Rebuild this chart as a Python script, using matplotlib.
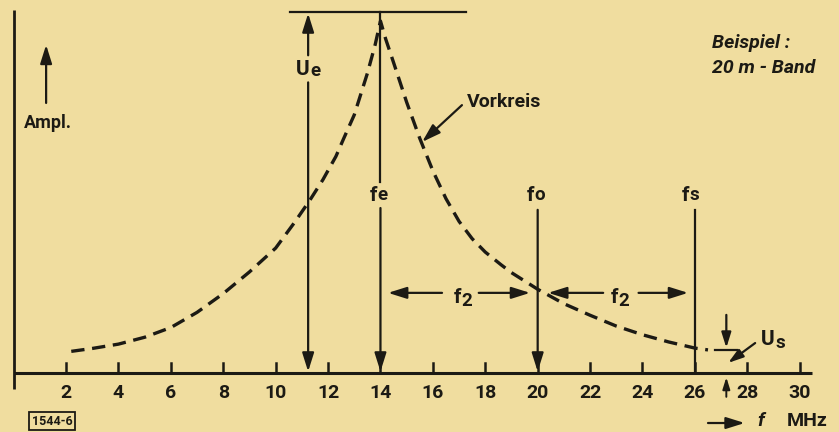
import matplotlib
matplotlib.use("Agg")
import matplotlib.pyplot as plt

# resonance curve of the pre-selector circuit (Vorkreis), relative amplitude
freq = [2.2, 3, 4, 5, 6, 7, 8, 9, 10, 10.7, 11.3, 11.8, 12.3, 12.6, 13, 13.5,
        13.8, 14, 14.2, 14.5, 15, 15.5, 16, 16.5, 17, 17.5, 18, 18.6, 19, 20,
        21, 22, 23, 24, 25, 26, 26.5]
ampl = [0.060, 0.068, 0.080, 0.099, 0.126, 0.168, 0.220, 0.280, 0.346, 0.415,
        0.478, 0.535, 0.600, 0.650, 0.715, 0.830, 0.910, 0.975, 0.925, 0.860,
        0.750, 0.650, 0.560, 0.483, 0.420, 0.372, 0.335, 0.300, 0.278, 0.232,
        0.192, 0.160, 0.130, 0.106, 0.086, 0.069, 0.064]

tick_values = [2, 4, 6, 8, 10, 12, 14, 16, 18, 20, 22, 24, 26, 28, 30]

f_e = 14.0     # input frequency
f_o = 20.0     # oscillator
f_s = 26.0     # image frequency
f_us = 27.2    # where the image amplitude is marked
u_e = 1.0
u_s = 0.064

paper = "#f0dd9f"
ink = "#1c1a14"
font = "Roboto"

fig = plt.figure(figsize=(8.39, 4.32), dpi=100, facecolor=paper)
ax = fig.add_axes([0, 0, 1, 1])
ax.set_facecolor(paper)
ax.set_xlim(-0.52, 31.5)
ax.set_ylim(-0.1634, 1.0332)
ax.set_axis_off()


def txt(x, y, s, size=14, ha="center", va="center", style="normal", **kw):
    return ax.text(x, y, s, fontsize=size, ha=ha, va=va, family=font,
                   weight="bold", style=style, color=ink, **kw)


def sub_label(x, y, main, sub, size=15, drop=0):
    # letter with index, split at x
    txt(x, y, main, size=size, ha="right")
    ax.annotate(sub, xy=(x, y), xytext=(0.5, -drop), textcoords="offset points",
                fontsize=size - 1.5, ha="left", va="center", family=font,
                weight="bold", color=ink)


def arrow(x0, y0, x1, y1, lw=1.6, scale=16):
    ax.annotate("", xy=(x1, y1), xytext=(x0, y0),
                arrowprops=dict(arrowstyle="-|>,head_length=0.7,head_width=0.22",
                                color=ink, lw=lw, mutation_scale=scale,
                                shrinkA=0, shrinkB=0))


# axes drawn by hand
ax.plot([0, 30.47], [0, 0], color=ink, lw=2.2, solid_capstyle="butt")
ax.plot([0, 0], [-0.045, 1.005], color=ink, lw=2.0, solid_capstyle="butt")
for t in tick_values:
    ax.plot([t, t], [0, 0.028], color=ink, lw=1.8)
    txt(t, -0.055, str(t), size=14)

# resonance curve
ax.plot(freq, ampl, color=ink, lw=2.4, dashes=(4.0, 2.3), dash_capstyle="butt")

# reference line at the peak
ax.plot([10.55, 17.27], [u_e, u_e], color=ink, lw=1.6)

# U_e double arrow
x_ue = 11.24
arrow(x_ue, 0.88, x_ue, u_e - 0.004)
arrow(x_ue, 0.805, x_ue, 0.004)
sub_label(11.30, 0.84, "U", "e", drop=1)

# f_e line from the peak line down to the axis
ax.plot([f_e, f_e], [u_e, 0.53], color=ink, lw=1.6)
arrow(f_e, 0.457, f_e, 0.004)
sub_label(13.87, 0.493, "f", "e")

# f_o and f_s
arrow(f_o, 0.452, f_o, 0.004)
sub_label(19.86, 0.493, "f", "o")
ax.plot([f_s, f_s], [0.452, 0.0], color=ink, lw=1.6)
sub_label(25.78, 0.493, "f", "s")

# f_2 spacings
y2 = 0.222
arrow(16.35, y2, 14.29, y2)
arrow(17.75, y2, 19.71, y2)
sub_label(17.08, 0.21, "f", "2", drop=3)
arrow(22.50, y2, 20.40, y2)
arrow(23.85, y2, 25.74, y2)
sub_label(23.07, 0.21, "f", "2", drop=3)

# U_s marker
ax.plot([26.78, 27.60], [u_s, u_s], color=ink, lw=1.6)
arrow(f_us, 0.161, f_us, u_s + 0.006, scale=13)
arrow(f_us, -0.066, f_us, -0.012, lw=1.4, scale=10)
arrow(28.3, 0.083, 27.27, 0.028, scale=13)
sub_label(29.05, 0.094, "U", "s", drop=3)

# Vorkreis label
arrow(17.11, 0.742, 15.59, 0.64)
txt(17.3, 0.75, "Vorkreis", size=14, ha="left")

# amplitude axis label
arrow(1.24, 0.748, 1.24, 0.909)
txt(0.40, 0.693, "Ampl.", size=13, ha="left")

# example note
txt(26.66, 0.914, "Beispiel :", size=14, ha="left", style="italic")
txt(26.66, 0.845, "20 m - Band", size=14, ha="left", style="italic")

# frequency axis label
arrow(26.5, -0.1385, 27.9, -0.1385, lw=1.6)
txt(28.5, -0.133, "f", size=14, ha="center", style="italic")
txt(29.5, -0.133, "MHz", size=14, ha="left")

# figure number
txt(1.47, -0.133, "1544-6", size=9,
    bbox=dict(boxstyle="square,pad=0.2", fc="none", ec=ink, lw=1.3))

fig.savefig("out.png", dpi=100, facecolor=paper)
